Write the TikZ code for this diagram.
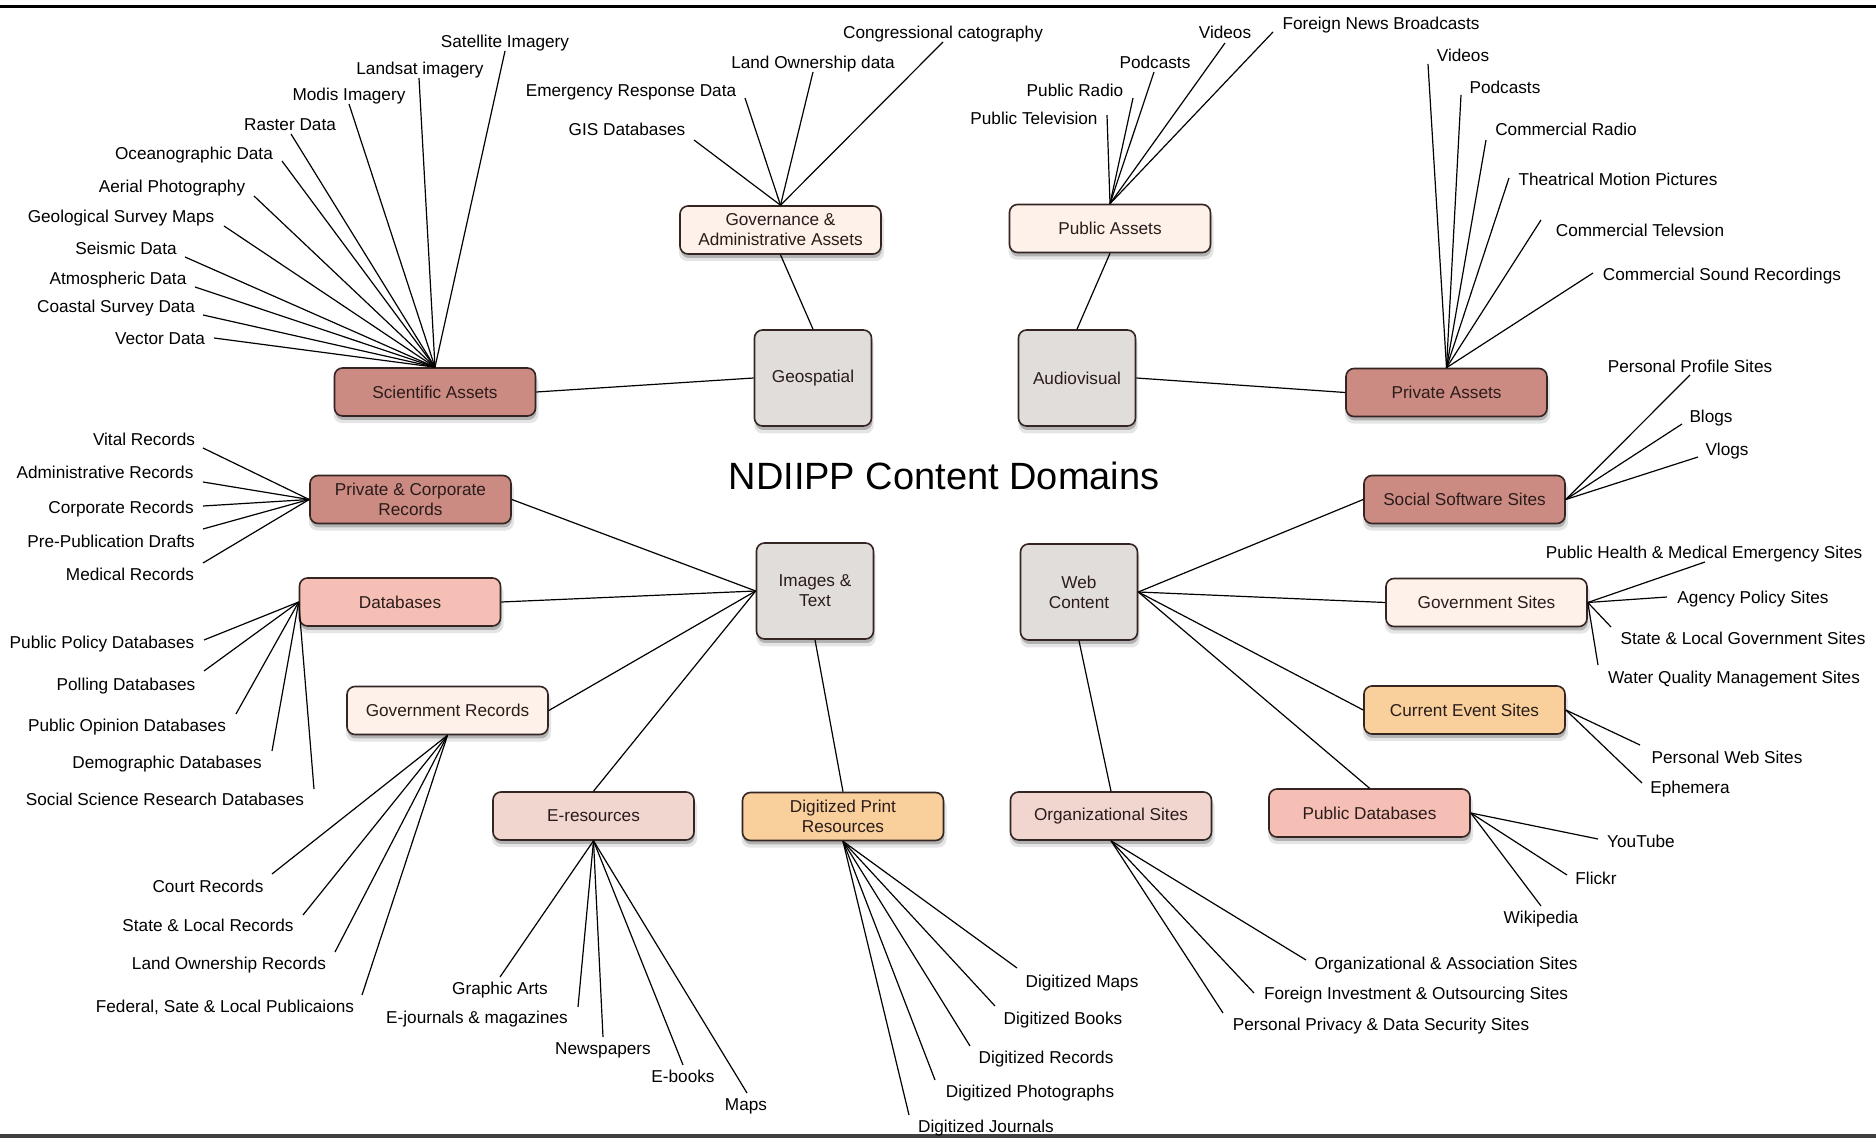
\documentclass[tikz,border=0pt]{standalone}
\usepackage{fontspec}
\setmainfont{Liberation Sans}
\usetikzlibrary{shadows}
\definecolor{cgray}{HTML}{E1DDDA}
\definecolor{cdark}{HTML}{CB8A82}
\definecolor{csalm}{HTML}{F6BFB5}
\definecolor{cpink}{HTML}{F1D6D0}
\definecolor{cpeach}{HTML}{FDF1EA}
\definecolor{corange}{HTML}{F9D09B}
\definecolor{cborder}{HTML}{352522}
\definecolor{ctext}{HTML}{2A1C1A}
\tikzset{
  box/.style={draw=cborder, line width=0.8pt, rounded corners=4pt, inner sep=0pt,
    align=center, font=\fontsize{8.6pt}{10pt}\selectfont, text=ctext,
    drop shadow={shadow xshift=0.5pt, shadow yshift=-3.2pt, fill=black, opacity=0.10, shadow scale=1.02},
    drop shadow={shadow xshift=0.4pt, shadow yshift=-2pt, fill=black, opacity=0.22}},
  hubbox/.style={box, fill=cgray, minimum width=58.5pt, minimum height=48pt},
  subbox/.style={box, minimum width=100.5pt, minimum height=24pt},
  lbl/.style={inner sep=0pt, font=\fontsize{8.6pt}{10pt}\selectfont, text height=0.72em, text depth=0pt},
  conn/.style={line width=0.6pt, black},
}
\newcommand\leaf[7]{%
  \node[lbl] (#1) at (#3,#4) {#5};
  \coordinate (#1-e) at (#6,#7);
  \draw[conn] (#2) -- (#1-e);
}
\begin{document}
\begin{tikzpicture}[x=0.5pt, y=-0.5pt]
\useasboundingbox (0,0) rectangle (1876,1138);
\fill[white] (0,0) rectangle (1876,1138);
\fill[black] (0,5) rectangle (1876,8.5);
\fill[black!75] (0,1134) rectangle (1876,1138);

% title
\node[font=\fontsize{19pt}{22pt}\selectfont, inner sep=0pt, text height=0.72em, text depth=0pt] (title) at (944,482) {NDIIPP Content Domains};

% central boxes
\node[hubbox] (geo) at (813,378) {Geospatial};
\node[hubbox] (av) at (1077,378) {Audiovisual};
\node[hubbox] (img) at (815,591) {Images \&\\Text};
\node[hubbox] (web) at (1079,592) {Web\\Content};

% secondary boxes
\node[subbox, fill=cdark] (sci) at (435,392) {Scientific Assets};
\node[subbox, fill=cpeach] (gov) at (780.5,230) {Governance \&\\Administrative Assets};
\node[subbox, fill=cpeach] (pub) at (1110,228.5) {Public Assets};
\node[subbox, fill=cdark] (priv) at (1446.5,392.5) {Private Assets};
\node[subbox, fill=cdark] (soc) at (1464.5,499.5) {Social Software Sites};
\node[subbox, fill=cpeach] (govs) at (1486.5,602.5) {Government Sites};
\node[subbox, fill=corange] (cur) at (1464.5,710) {Current Event Sites};
\node[subbox, fill=csalm] (pdb) at (1369.5,813) {Public Databases};
\node[subbox, fill=cpink] (org) at (1111,816) {Organizational Sites};
\node[subbox, fill=cpink] (eres) at (593.5,816) {E-resources};
\node[subbox, fill=corange] (dpr) at (843,816.5) {Digitized Print\\Resources};
\node[subbox, fill=cpeach] (grec) at (447.5,710.5) {Government Records};
\node[subbox, fill=csalm] (dbs) at (400,602) {Databases};
\node[subbox, fill=cdark] (pcr) at (410.5,499.5) {Private \& Corporate\\Records};

% main connectors
\draw[conn] (sci.east) -- (geo.west);
\draw[conn] (gov.south) -- (geo.north);
\draw[conn] (pub.south) -- (av.north);
\draw[conn] (av.east) -- (priv.west);
\draw[conn] (img.west) -- (pcr.east);
\draw[conn] (img.west) -- (dbs.east);
\draw[conn] (img.west) -- (grec.east);
\draw[conn] (img.west) -- (eres.north);
\draw[conn] (img.south) -- (dpr.north);
\draw[conn] (web.east) -- (soc.west);
\draw[conn] (web.east) -- (govs.west);
\draw[conn] (web.east) -- (cur.west);
\draw[conn] (web.east) -- (pdb.north);
\draw[conn] (web.south) -- (org.north);

% Scientific Assets
\leaf{sat}{sci.north}{505}{40}{Satellite Imagery}{505}{51}
\leaf{lan}{sci.north}{420}{67}{Landsat imagery}{419}{78}
\leaf{mod}{sci.north}{349}{93}{Modis Imagery}{349}{104}
\leaf{ras}{sci.north}{290}{123}{Raster Data}{291}{134}
\leaf{oce}{sci.north}{194}{152}{Oceanographic Data}{282}{161}
\leaf{aer}{sci.north}{172}{185}{Aerial Photography}{254}{196}
\leaf{gsm}{sci.north}{121}{215}{Geological Survey Maps}{224}{226}
\leaf{sei}{sci.north}{126}{247}{Seismic Data}{185}{257}
\leaf{atm}{sci.north}{118}{277}{Atmospheric Data}{195}{287}
\leaf{coa}{sci.north}{116}{305}{Coastal Survey Data}{203}{315}
\leaf{vec}{sci.north}{160}{337}{Vector Data}{214}{338}

% Governance
\leaf{cong}{gov.north}{943}{31}{Congressional catography}{943}{42}
\leaf{lown}{gov.north}{813}{61}{Land Ownership data}{813}{72}
\leaf{emer}{gov.north}{631}{89}{Emergency Response Data}{745}{98}
\leaf{gis}{gov.north}{627}{128}{GIS Databases}{694}{140}

% Public Assets
\leaf{ptv}{pub.north}{1034}{117}{Public Television}{1107}{115}
\leaf{prad}{pub.north}{1075}{89}{Public Radio}{1133}{98}
\leaf{ppod}{pub.north}{1155}{61}{Podcasts}{1154}{72}
\leaf{pvid}{pub.north}{1225}{31}{Videos}{1225}{43}
\leaf{fnb}{pub.north}{1381}{22}{Foreign News Broadcasts}{1273}{32}

% Private Assets
\leaf{avid}{priv.north}{1463}{54}{Videos}{1428}{64}
\leaf{apod}{priv.north}{1505}{86}{Podcasts}{1461}{95}
\leaf{crad}{priv.north}{1566}{128}{Commercial Radio}{1486}{140}
\leaf{tmp}{priv.north}{1618}{178}{Theatrical Motion Pictures}{1509}{178}
\leaf{ctv}{priv.north}{1640}{229}{Commercial Televsion}{1541}{220}
\leaf{csr}{priv.north}{1722}{273}{Commercial Sound Recordings}{1593}{273}

% Social Software Sites
\leaf{pps}{soc.east}{1690}{365}{Personal Profile Sites}{1690}{375}
\leaf{blog}{soc.east}{1711}{415}{Blogs}{1682}{424}
\leaf{vlog}{soc.east}{1727}{448}{Vlogs}{1698}{457}

% Government Sites
\leaf{phm}{govs.east}{1704}{551}{Public Health \& Medical Emergency Sites}{1705}{562}
\leaf{aps}{govs.east}{1753}{596}{Agency Policy Sites}{1667}{597}
\leaf{slg}{govs.east}{1743}{637}{State \& Local Government Sites}{1611}{627}
\leaf{wqm}{govs.east}{1734}{676}{Water Quality Management Sites}{1598}{665}

% Current Event Sites
\leaf{pws}{cur.east}{1727}{756}{Personal Web Sites}{1640}{745}
\leaf{eph}{cur.east}{1690}{786}{Ephemera}{1642}{783}

% Public Databases
\leaf{yt}{pdb.east}{1641}{840}{YouTube}{1598}{839}
\leaf{fl}{pdb.east}{1596}{877}{Flickr}{1567}{875}
\leaf{wiki}{pdb.east}{1541}{916}{Wikipedia}{1541}{906}

% Organizational Sites
\leaf{oas}{org.south}{1446}{962}{Organizational \& Association Sites}{1306}{960}
\leaf{fio}{org.south}{1416}{992}{Foreign Investment \& Outsourcing Sites}{1254}{993}
\leaf{ppd}{org.south}{1381}{1023}{Personal Privacy \& Data Security Sites}{1223}{1013}

% Digitized Print Resources
\leaf{dmap}{dpr.south}{1082}{980}{Digitized Maps}{1017}{968}
\leaf{dbook}{dpr.south}{1063}{1017}{Digitized Books}{995}{1006}
\leaf{drec}{dpr.south}{1046}{1056}{Digitized Records}{970}{1046}
\leaf{dphot}{dpr.south}{1030}{1090}{Digitized Photographs}{935}{1080}
\leaf{djour}{dpr.south}{986}{1125}{Digitized Journals}{909}{1115}

% E-resources
\leaf{ga}{eres.south}{500}{987}{Graphic Arts}{500}{977}
\leaf{ej}{eres.south}{477}{1016}{E-journals \& magazines}{578}{1007}
\leaf{np}{eres.south}{603}{1047}{Newspapers}{603}{1037}
\leaf{eb}{eres.south}{683}{1075}{E-books}{683}{1065}
\leaf{maps}{eres.south}{746}{1103}{Maps}{747}{1093}

% Government Records
\leaf{cr}{grec.south}{208}{885}{Court Records}{272}{874}
\leaf{slr}{grec.south}{208}{924}{State \& Local Records}{303}{915}
\leaf{lor}{grec.south}{229}{962}{Land Ownership Records}{335}{952}
\leaf{fsl}{grec.south}{225}{1005}{Federal, Sate \& Local Publicaions}{362}{995}

% Databases
\leaf{ppdb}{dbs.west}{102}{641}{Public Policy Databases}{204}{640}
\leaf{poll}{dbs.west}{126}{683}{Polling Databases}{204}{671}
\leaf{podb}{dbs.west}{127}{724}{Public Opinion Databases}{236}{714}
\leaf{demo}{dbs.west}{167}{761}{Demographic Databases}{272}{751}
\leaf{ssr}{dbs.west}{165}{798}{Social Science Research Databases}{314}{789}

% Private & Corporate Records
\leaf{vit}{pcr.west}{144}{438}{Vital Records}{203}{448}
\leaf{adm}{pcr.west}{105}{471}{Administrative Records}{203}{482}
\leaf{corp}{pcr.west}{121}{506}{Corporate Records}{203}{506}
\leaf{pre}{pcr.west}{111}{540}{Pre-Publication Drafts}{203}{529}
\leaf{med}{pcr.west}{130}{573}{Medical Records}{203}{563}
\end{tikzpicture}
\end{document}
